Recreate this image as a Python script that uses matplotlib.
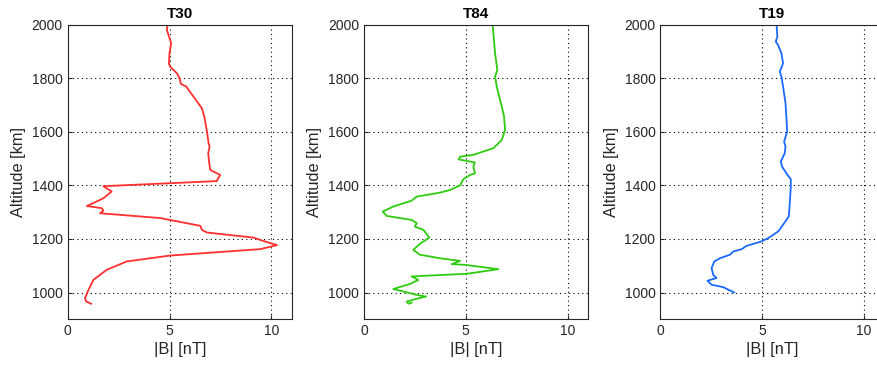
import matplotlib
matplotlib.use("Agg")
import matplotlib.pyplot as plt

plt.rcParams['font.family'] = ['Liberation Sans', 'DejaVu Sans']

# T30 profile: |B| [nT] vs altitude [km]
t30_b = [4.90, 4.87, 5.03, 5.08, 5.00, 4.97, 5.03, 5.36, 5.49, 5.56, 5.82, 6.18,
         6.59, 6.71, 6.84, 6.92, 6.97, 6.90, 6.95, 7.00, 7.25, 7.49, 7.36, 7.33,
         1.75, 2.16, 1.75, 1.43, 0.94, 1.67, 1.75, 1.59, 4.54, 6.51, 6.59, 6.84,
         9.13, 9.55, 10.28, 9.46, 5.03, 2.90, 1.92, 1.26, 1.02, 0.85, 0.90, 1.15]
t30_alt = [2000, 1980, 1943, 1932, 1893, 1856, 1843, 1819, 1800, 1779, 1769, 1731,
           1688, 1657, 1601, 1557, 1545, 1520, 1483, 1458, 1448, 1439, 1423, 1416,
           1397, 1377, 1352, 1340, 1323, 1315, 1306, 1296, 1278, 1249, 1234, 1224,
           1205, 1194, 1177, 1162, 1138, 1116, 1085, 1047, 1010, 979, 967, 958]

# T84 profile
t84_b = [6.32, 6.44, 6.55, 6.44, 6.52, 6.77, 6.88, 6.93, 6.77, 6.36, 5.37, 4.72,
         4.65, 5.21, 5.45, 5.37, 5.45, 5.21, 4.88, 4.72, 4.23, 3.74, 2.59, 2.34,
         1.44, 0.92, 1.12, 2.34, 2.59, 2.50, 2.92, 3.21, 2.75, 2.42, 2.75, 3.73,
         4.72, 4.31, 5.00, 6.60, 5.05, 2.34, 2.67, 2.26, 1.44, 1.93, 2.59, 3.05,
         2.50, 2.10, 2.18, 2.34]
t84_alt = [2000, 1893, 1831, 1806, 1769, 1694, 1657, 1607, 1570, 1539, 1514, 1507,
           1497, 1489, 1485, 1470, 1445, 1439, 1423, 1400, 1383, 1373, 1358, 1343,
           1321, 1302, 1286, 1271, 1259, 1246, 1234, 1205, 1182, 1159, 1141, 1128,
           1118, 1106, 1103, 1087, 1070, 1060, 1047, 1032, 1013, 1004, 991, 985,
           975, 966, 958, 962]

# T19 profile
t19_b = [5.71, 5.75, 5.67, 5.78, 5.95, 6.03, 5.87, 5.95, 6.03, 6.15, 6.20, 6.23,
         6.08, 6.15, 6.11, 5.92, 5.98, 6.25, 6.41, 6.41, 6.36, 6.31, 6.03, 5.79,
         5.30, 4.94, 4.23, 4.00, 3.58, 3.42, 2.93, 2.65, 2.52, 2.60, 2.76, 2.32,
         2.52, 3.09, 3.63]
t19_alt = [2000, 1955, 1937, 1925, 1893, 1856, 1825, 1806, 1769, 1707, 1644, 1601,
           1563, 1545, 1520, 1489, 1470, 1439, 1423, 1396, 1334, 1284, 1253, 1228,
           1203, 1190, 1174, 1162, 1153, 1141, 1128, 1116, 1091, 1066, 1054, 1044,
           1029, 1020, 1000]

titles = ['T30', 'T84', 'T19']
colors = ['#ff3030', '#2ecc10', '#1a6aff']
profiles = [(t30_b, t30_alt), (t84_b, t84_alt), (t19_b, t19_alt)]

fig = plt.figure(figsize=(8.77, 3.67), dpi=100)
lefts = [0.0772, 0.415, 0.7529]
for left, title, col, (b, alt) in zip(lefts, titles, colors, profiles):
    ax = fig.add_axes([left, 0.130, 0.2554, 0.8027])
    ax.plot(b, alt, color=col, linewidth=1.3)
    ax.set_xlim(0, 11)
    ax.set_ylim(900, 2000)
    ax.set_xticks([0, 5, 10])
    ax.set_yticks([1000, 1200, 1400, 1600, 1800, 2000])
    ax.grid(True, color='black', linestyle=(0, (1, 3)), linewidth=0.8)
    ax.tick_params(direction='in', labelsize=10, colors='#262626', length=3)
    for sp in ax.spines.values():
        sp.set_color('#262626')
        sp.set_linewidth(0.8)
    ax.set_title(title, fontsize=11, fontweight='bold', pad=5)
    ax.set_xlabel('|B| [nT]', fontsize=11.8, color='#262626', labelpad=3)
    ax.set_ylabel('Altitude [km]', fontsize=11.8, color='#262626', labelpad=4)

fig.savefig('out.png', dpi=100)
